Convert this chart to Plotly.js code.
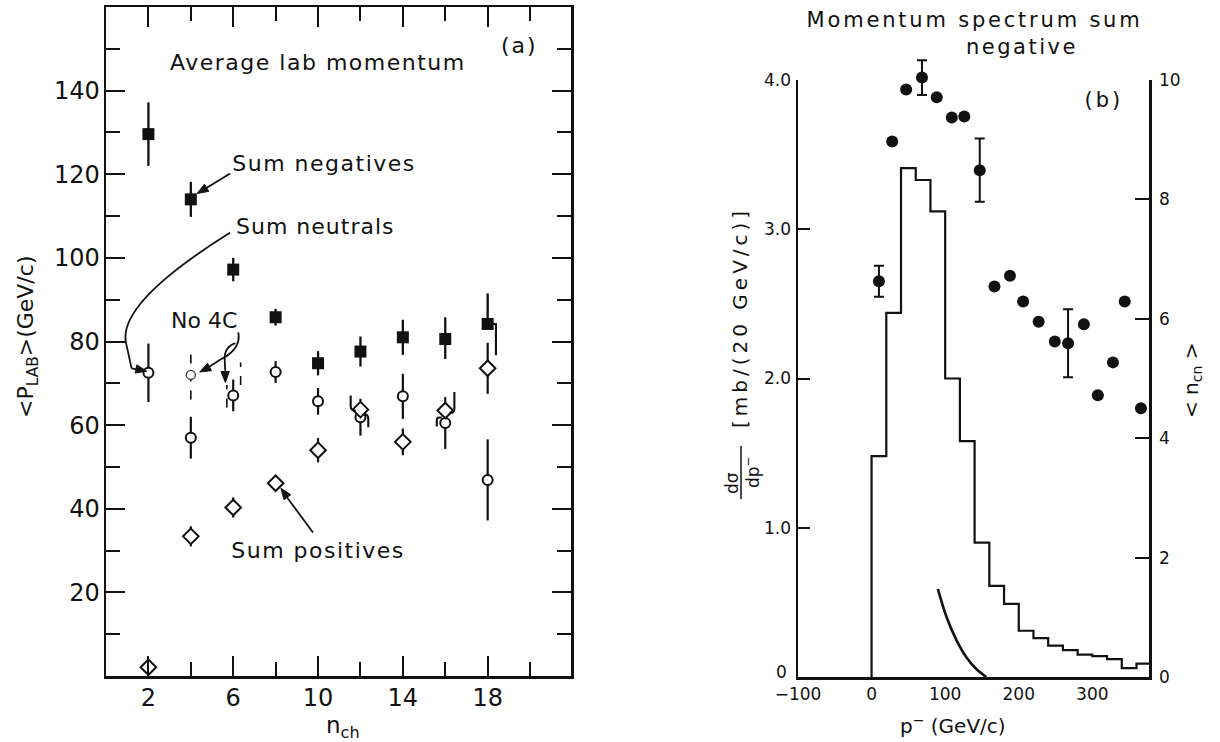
<!DOCTYPE html>
<html><head><meta charset="utf-8">
<script src="https://cdn.plot.ly/plotly-3.0.1.min.js"></script>
<style>body{margin:0;background:#fff}</style>
</head><body>
<div id="chart" style="width:1220px;height:742px"></div>
<script>
// ---------- Panel (a): average lab momentum vs charged multiplicity ----------
const nCh = [2, 4, 6, 8, 10, 12, 14, 16, 18];
const negMean = [129.6, 114.0, 97.2, 85.8, 74.8, 77.6, 81.0, 80.6, 84.2];
const negErrUp = [7.6, 4.2, 2.8, 2.0, 2.9, 3.6, 4.2, 5.2, 7.3];
const negErrDown = [7.6, 4.2, 2.8, 2.0, 2.9, 3.6, 4.2, 4.8, 0];
const neuMean = [72.5, 57.0, 67.1, 72.7, 65.7, 61.9, 66.9, 60.5, 46.9];
const neuErr = [7.0, 5.0, 3.8, 2.6, 3.2, 4.4, 5.4, 6.2, 9.7];
const posMean = [2.1, 33.4, 40.3, 46.1, 54.0, 63.7, 56.0, 63.5, 73.6];
const posErr = [0, 2.4, 2.4, 0, 2.9, 0, 3.2, 0, 6.1];
const no4cN = [4, 6];
const no4cMean = [72.0, 69.6];
const no4cErr = [5.9, 5.4];
const aXTicks = [2, 6, 10, 14, 18];
const aYTicks = [20, 40, 60, 80, 100, 120, 140];

// ---------- Panel (b): momentum spectrum of sum negative ----------
const binLow = [0, 20, 40, 60, 80, 100, 120, 140, 160, 180, 200, 220, 240, 260, 280, 300, 320, 340, 360];
const binWidth = 20;
const dSigma = [1.48, 2.44, 3.41, 3.33, 3.12, 2.00, 1.58, 0.90, 0.61, 0.49, 0.31, 0.26, 0.21, 0.18, 0.15, 0.14, 0.12, 0.06, 0.09];
const curveP = [90, 102, 115, 129, 143, 156];
const curveY = [0.59, 0.40, 0.25, 0.13, 0.05, 0];
const dotP = [10, 28, 47, 68.5, 88.5, 109, 126, 147, 167, 188, 206, 227, 249, 267, 288.5, 307.5, 328, 344, 366];
const dotN = [6.63, 8.97, 9.84, 10.04, 9.71, 9.37, 9.39, 8.49, 6.54, 6.72, 6.29, 5.95, 5.62, 5.59, 5.91, 4.72, 5.27, 6.29, 4.50];
const dotErr = [0.26, 0, 0, 0.29, 0, 0, 0, 0.53, 0, 0, 0, 0, 0, 0.57, 0, 0, 0, 0, 0];
const bXTicks = [-100, 0, 100, 200, 300];
const bYTicks = [0, 1, 2, 3, 4];
const bYTickText = ['', '1.0', '2.0', '3.0', '4.0'];
const bY2Ticks = [0, 2, 4, 6, 8, 10];

const INK = '#111';
const FONT = 'DejaVu Sans, sans-serif';
const W = 1220, H = 742;

// histogram as a step line
const stepX = [binLow[0]], stepY = [0];
binLow.forEach((b, i) => { stepX.push(b); stepY.push(dSigma[i]); });
stepX.push(binLow[binLow.length - 1] + binWidth); stepY.push(dSigma[dSigma.length - 1]);

// dashed "No 4C" bar for first point
const n4x = [no4cN[0], no4cN[0]];
const n4y = [no4cMean[0] - no4cErr[0], no4cMean[0] + no4cErr[0]];
// split dashed bar for second point (lower half left, upper half right)
const n6x = [no4cN[1] - 0.3, no4cN[1] - 0.3, null, no4cN[1] + 0.35, no4cN[1] + 0.35];
const n6y = [no4cMean[1] - no4cErr[1], no4cMean[1], null, no4cMean[1], no4cMean[1] + no4cErr[1]];

const traces = [
  {x: n4x, y: n4y, xaxis: 'x', yaxis: 'y', mode: 'lines', line: {color: INK, width: 1.6, dash: 'dash'}, hoverinfo: 'skip'},
  {x: n6x, y: n6y, xaxis: 'x', yaxis: 'y', mode: 'lines', line: {color: INK, width: 1.6, dash: 'dash'}, hoverinfo: 'skip'},
  {x: [no4cN[0]], y: [no4cMean[0]], xaxis: 'x', yaxis: 'y', mode: 'markers',
   marker: {symbol: 'circle', size: 9, color: 'white', line: {color: '#333', width: 1.3}}},
  {name: 'Sum negatives', x: nCh, y: negMean, xaxis: 'x', yaxis: 'y', mode: 'markers',
   marker: {symbol: 'square', size: 12, color: INK},
   error_y: {type: 'data', symmetric: false, array: negErrUp, arrayminus: negErrDown, width: 0, thickness: 2.3, color: INK}},
  {name: 'Sum neutrals', x: nCh, y: neuMean, xaxis: 'x', yaxis: 'y', mode: 'markers',
   marker: {symbol: 'circle', size: 10, color: 'white', line: {color: INK, width: 2}},
   error_y: {type: 'data', array: neuErr, width: 0, thickness: 2.2, color: INK}},
  {name: 'Sum positives', x: nCh, y: posMean, xaxis: 'x', yaxis: 'y', mode: 'markers',
   marker: {symbol: 'diamond', size: 12, color: 'white', line: {color: INK, width: 2}},
   error_y: {type: 'data', array: posErr, width: 0, thickness: 2.2, color: INK}},
  {name: 'dσ/dp', x: stepX, y: stepY, xaxis: 'x2', yaxis: 'y2', mode: 'lines',
   line: {shape: 'hv', color: INK, width: 2.2}},
  {name: 'curve', x: curveP, y: curveY, xaxis: 'x2', yaxis: 'y2', mode: 'lines',
   line: {shape: 'spline', color: INK, width: 2.6}},
  // invisible copy on the visible right-hand axis so that axis is created
  {name: 'axis holder', x: dotP, y: dotN, xaxis: 'x2', yaxis: 'y3', mode: 'markers',
   marker: {size: 1, opacity: 0}, hoverinfo: 'skip'},
  {name: '<n_cn>', x: dotP, y: dotN, xaxis: 'x2', yaxis: 'y4', mode: 'markers',
   marker: {symbol: 'circle', size: 12, color: INK},
   error_y: {type: 'data', array: dotErr, width: 5, thickness: 2, color: INK}}
];

const axBase = {showgrid: false, zeroline: false, showline: true, linecolor: INK, linewidth: 2.5,
  tickcolor: INK, tickwidth: 2, tickfont: {family: FONT, size: 24, color: INK}};

// panel (a) data-space scale (px per unit) for arrowheads
const XS = 465 / 21.93, YS = 669 / 160;
function headPath(tx, ty, fx, fy) {
  const dx = (tx - fx) * XS, dy = (ty - fy) * YS;
  const d = Math.hypot(dx, dy), ux = dx / d, uy = dy / d;
  const L = 11, Wd = 4.2;
  const bx = tx * XS - L * ux, by = ty * YS - L * uy;
  const p1 = [(bx - Wd * uy) / XS, (by + Wd * ux) / YS];
  const p2 = [(bx + Wd * uy) / XS, (by - Wd * ux) / YS];
  return {type: 'path', xref: 'x', yref: 'y', fillcolor: INK, line: {color: INK, width: 1},
    path: `M ${tx},${ty} L ${p1[0]},${p1[1]} L ${p2[0]},${p2[1]} Z`};
}
const shapeLine = {type: 'path', xref: 'x', yref: 'y', line: {color: INK, width: 1.8}};
const hook = {type: 'path', xref: 'x', yref: 'y', line: {color: INK, width: 2.1}};
const shapes = [
  // straight arrows
  {type: 'line', xref: 'x', yref: 'y', x0: 5.85, y0: 120.2, x1: 4.6, y1: 116.3, line: {color: INK, width: 1.8}},
  headPath(4.30, 115.4, 5.85, 120.2),
  {type: 'line', xref: 'x', yref: 'y', x0: 9.76, y0: 34.3, x1: 8.5, y1: 43.0, line: {color: INK, width: 1.8}},
  headPath(8.25, 44.9, 9.76, 34.3),
  // curved arrow from "Sum neutrals"
  Object.assign({path: 'M 5.85,106 C 3.0,97 0.6,87 0.95,79.5 S 1.1,73.8 1.45,73.4'}, shapeLine),
  headPath(1.92, 72.9, 1.4, 73.45),
  // curved arrows from "No 4C"
  Object.assign({path: 'M 6.24,82.2 C 6.35,79.2 6.0,77.2 5.4,75.7 L 4.85,73.9'}, shapeLine),
  headPath(4.42, 72.7, 4.95, 74.1),
  Object.assign({path: 'M 6.1,79.6 Q 5.55,78.6 5.6,75.5 L 5.62,73.0'}, shapeLine),
  headPath(5.63, 70.2, 5.62, 73.0),
  // offset error bar hooks
  Object.assign({path: 'M 11.54,67.1 L 11.54,64.6 Q 11.54,63.4 11.78,63.5'}, hook),
  Object.assign({path: 'M 12.15,62.6 Q 12.37,62.7 12.37,61.5 L 12.37,59.5'}, hook),
  Object.assign({path: 'M 16.43,67.9 L 16.43,63.9 Q 16.43,62.8 16.2,63.0'}, hook),
  Object.assign({path: 'M 15.6,59.7 L 15.6,61.2 Q 15.6,62.0 15.83,61.8'}, hook),
  Object.assign({path: 'M 18.2,84.2 L 18.39,84.2 L 18.39,76.7'}, hook),
  // fraction bar of dσ/dp⁻
  {type: 'line', xref: 'paper', yref: 'paper', x0: 741 / W, x1: 741 / W, y0: 1 - 446 / H, y1: 1 - 499 / H,
   line: {color: INK, width: 1.5}}
];

function txt(text, x, y, size, extra) {
  return Object.assign({text: text, x: x, y: y, xref: 'x', yref: 'y', showarrow: false,
    xanchor: 'center', yanchor: 'middle', font: {family: FONT, size: size, color: INK}}, extra || {});
}
function ptxt(text, px, py, size, extra) {
  return Object.assign({text: text, x: px / W, y: 1 - py / H, xref: 'paper', yref: 'paper',
    xanchor: 'center', yanchor: 'middle', showarrow: false, font: {family: FONT, size: size, color: INK}}, extra || {});
}

const annotations = [
  txt('Average lab momentum', 10.0, 146.7, 22),
  txt('(a)', 19.52, 150.8, 22),
  txt('Sum negatives', 10.28, 122.6, 22),
  txt('Sum neutrals', 9.86, 107.5, 22),
  txt('No 4C', 4.63, 85.0, 22),
  txt('Sum positives', 10.0, 30.0, 22),
  ptxt('&lt;P<sub>LAB</sub>&gt;(GeV/c)', 27, 337, 22, {textangle: -90}),
  ptxt('n<sub>ch</sub>', 343, 727, 23),
  ptxt('Momentum spectrum sum', 974, 20, 21),
  ptxt('negative', 1022, 47, 21),
  ptxt('(b)', 1104, 100, 21),
  ptxt('[mb/(20 GeV/c)]', 740, 318, 20, {textangle: -90}),
  ptxt('dσ', 732, 483, 17, {textangle: -90}),
  ptxt('dp<sup>−</sup>', 752, 472, 17, {textangle: -90}),
  ptxt('p<sup>−</sup> (GeV/c)', 953, 725, 20),
  ptxt('&lt; n<sub>cn</sub> &gt;', 1192, 380, 20, {textangle: -90}),
  ptxt('0', 789, 672, 17, {xanchor: 'right'})
];

const layout = {
  width: W, height: H, margin: {l: 0, r: 0, t: 0, b: 0},
  paper_bgcolor: 'white', plot_bgcolor: 'rgba(0,0,0,0)', showlegend: false,
  font: {family: FONT, color: INK},
  xaxis: Object.assign({}, axBase, {domain: [106 / W, 571 / W], range: [0, 21.93], anchor: 'y',
    mirror: 'ticks', ticks: 'inside', ticklen: 20, tickvals: aXTicks, ticktext: aXTicks.map(String),
    ticklabelstandoff: -1,
    minor: {ticks: 'inside', ticklen: 14, tickwidth: 2, tickcolor: INK, tickvals: [4, 8, 12, 16, 20]}}),
  yaxis: Object.assign({}, axBase, {domain: [1 - 676 / H, 1 - 7 / H], range: [0, 160], anchor: 'x',
    mirror: 'ticks', ticks: 'inside', ticklen: 19, tickvals: aYTicks, ticktext: aYTicks.map(String),
    ticklabelstandoff: -1,
    minor: {ticks: 'inside', ticklen: 14, tickwidth: 2, tickcolor: INK, tickvals: [10, 30, 50, 70, 90, 110, 130, 150]}}),
  xaxis2: Object.assign({}, axBase, {domain: [798 / W, 1149 / W], range: [-100, 377], anchor: 'y2',
    ticks: '', tickvals: bXTicks, ticktext: bXTicks.map(v => v < 0 ? '−' + Math.abs(v) : String(v)),
    tickfont: {family: FONT, size: 17, color: INK}, ticklabelstandoff: 0}),
  yaxis2: Object.assign({}, axBase, {domain: [1 - 677 / H, 1 - 80 / H], range: [0, 4], anchor: 'x2',
    ticks: 'inside', ticklen: 12, tickvals: bYTicks, ticktext: bYTickText,
    tickfont: {family: FONT, size: 17, color: INK}, ticklabelstandoff: 1}),
  yaxis3: Object.assign({}, axBase, {overlaying: 'y2', side: 'right', anchor: 'x2', range: [0, 10],
    ticks: 'inside', ticklen: 14, tickvals: bY2Ticks, ticktext: bY2Ticks.map(String),
    tickfont: {family: FONT, size: 17, color: INK}, ticklabelstandoff: 4}),
  // same scale as yaxis3 (0..10 over 597 px) but a taller, invisible domain so points above 10 are not clipped
  yaxis4: {domain: [1 - 677 / H, 1 - 30 / H], range: [0, 10 * 647 / 597], anchor: 'x2', visible: false,
    showgrid: false, zeroline: false},
  shapes: shapes,
  annotations: annotations
};

const spacing = {
  'Average lab momentum': '1.5px', 'Sum negatives': '1.5px', 'Sum neutrals': '1px', 'Sum positives': '1.5px',
  '(a)': '2px', 'Momentum spectrum sum': '2.8px', 'negative': '2.5px', '(b)': '3px',
  '[mb/(20 GeV/c)]': '4px', 'p− (GeV/c)': '3px'
};

Plotly.newPlot('chart', traces, layout, {staticPlot: true, displayModeBar: false}).then(() => {
  document.querySelectorAll('.annotation-text').forEach(t => {
    const s = spacing[t.textContent];
    if (s) t.style.letterSpacing = s;
  });
});
</script>
</body></html>
